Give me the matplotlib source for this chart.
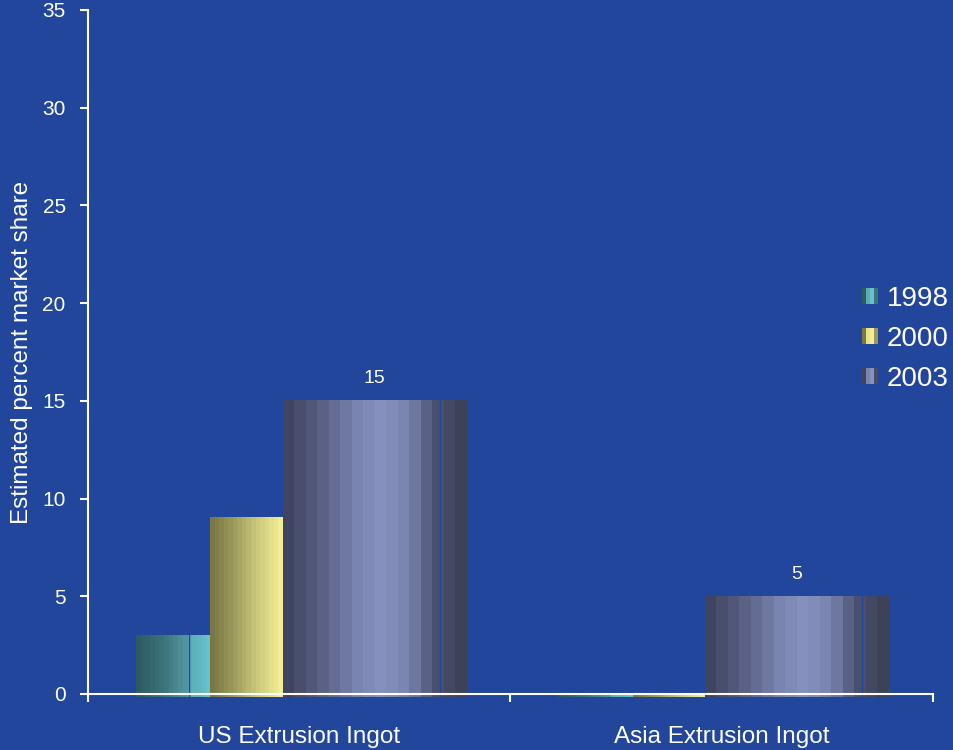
import numpy as np
import matplotlib.pyplot as plt
from matplotlib.colors import LinearSegmentedColormap
from matplotlib.legend_handler import HandlerBase
from matplotlib.patches import Rectangle

plt.rcParams['font.family'] = ['Liberation Sans', 'DejaVu Sans']

categories = ['US Extrusion Ingot', 'Asia Extrusion Ingot']
years = ['1998', '2000', '2003']
share_1998 = [3, 0]
share_2000 = [9, 0]
share_2003 = [15, 5]
labelled = ['2003']

bg = '#21469C'

# left/right edge of each series bar, relative to the category centre
edges = {'1998': (-0.387, -0.211), '2000': (-0.211, -0.039), '2003': (-0.039, 0.396)}
# a thin seam line drawn at this fraction of the bar width
seams = {'1998': 0.72, '2000': None, '2003': 0.853}
grads = {
    '1998': [(0, '#2E5B61'), (0.35, '#3C727A'), (0.7, '#5498A1'), (0.72, '#5BAAB5'), (1, '#66C2CC')],
    '2000': [(0, '#7B7745'), (0.3, '#9A985B'), (0.65, '#CBC77C'), (1, '#F2EE95')],
    '2003': [(0, '#3F4560'), (0.2, '#5A6185'), (0.4, '#7A84B0'), (0.55, '#8792C0'),
             (0.7, '#7782AD'), (0.84, '#4E5475'), (0.86, '#4A5070'), (1, '#3E4259')],
}
legend_stripes = {
    '1998': ['#2E5B61', '#5BAAB5', '#66C2CC', '#3C727A'],
    '2000': ['#7B7745', '#E8E48C', '#F2EE95', '#9A985B'],
    '2003': ['#3F4560', '#7A84B0', '#8792C0', '#474C69'],
}
values = {'1998': share_1998, '2000': share_2000, '2003': share_2003}

fig = plt.figure(figsize=(9.54, 7.5), dpi=100, facecolor=bg)
ax = fig.add_axes([0.0922, 0.0747, 0.8858, 0.912])
ax.set_facecolor(bg)

x = np.arange(len(categories))
base = -0.16
for yr in years:
    lo, hi = edges[yr]
    vals = np.array(values[yr], dtype=float)
    bars = ax.bar(x + lo, vals - base, width=hi - lo, bottom=base, align='edge',
                  color='none', edgecolor='none', label=yr)
    cmap = LinearSegmentedColormap.from_list(yr, grads[yr])
    for rect, v in zip(bars, vals):
        x0, y0 = rect.get_x(), rect.get_y()
        w, h = rect.get_width(), rect.get_height()
        ax.imshow(np.linspace(0, 1, 16).reshape(1, -1), cmap=cmap, aspect='auto',
                  interpolation='nearest', extent=(x0, x0 + w, y0, y0 + h),
                  zorder=2, clip_on=False)
        if seams[yr] is not None and v > 0:
            sx = x0 + w * seams[yr]
            ax.plot([sx, sx], [y0, y0 + h], color=bg, lw=1, zorder=3, clip_on=False)
        if yr in labelled:
            ax.text(x0 + w / 2, v + 0.7, f'{v:g}', ha='center', va='bottom',
                    color='white', fontsize=14)

ax.set_xlim(-0.5, 1.5)
ax.set_ylim(0, 35)
ax.set_yticks(np.arange(0, 36, 5))
ax.set_xticks(x)
ax.set_xticklabels(categories)
ax.set_xticks([-0.5, 0.5, 1.5], minor=True)
ax.tick_params(axis='x', which='major', length=0, pad=23, labelsize=17.5, colors='white')
ax.tick_params(axis='x', which='minor', length=6, width=1.5, color='white')
ax.tick_params(axis='y', length=6, width=1.5, colors='white', labelsize=15, pad=10)
for s in ['top', 'right']:
    ax.spines[s].set_visible(False)
for s in ['left', 'bottom']:
    ax.spines[s].set_color('white')
    ax.spines[s].set_linewidth(1.5)
    ax.spines[s].set_zorder(4)
ax.set_ylabel('Estimated percent market share', color='white', fontsize=17.5, labelpad=7)


class StripeHandler(HandlerBase):
    def create_artists(self, legend, orig_handle, xdescent, ydescent, width, height,
                       fontsize, trans):
        cols = legend_stripes[orig_handle.get_label()]
        n = len(cols)
        side = width
        x0 = -xdescent
        y0 = -ydescent + (height - side) / 2
        return [Rectangle((x0 + i * side / n, y0), side / n, side, facecolor=c,
                          edgecolor='none', transform=trans)
                for i, c in enumerate(cols)]


handles = [Rectangle((0, 0), 1, 1, label=yr) for yr in years]
leg = fig.legend(handles=handles, labels=years, loc='center left',
                 bbox_to_anchor=(0.9036, 0.548), frameon=False, fontsize=20,
                 labelcolor='white', handler_map={Rectangle: StripeHandler()},
                 handlelength=0.58, handletextpad=0.32, labelspacing=0.5,
                 borderpad=0, borderaxespad=0)

fig.savefig('out.png', dpi=100, facecolor=bg)
